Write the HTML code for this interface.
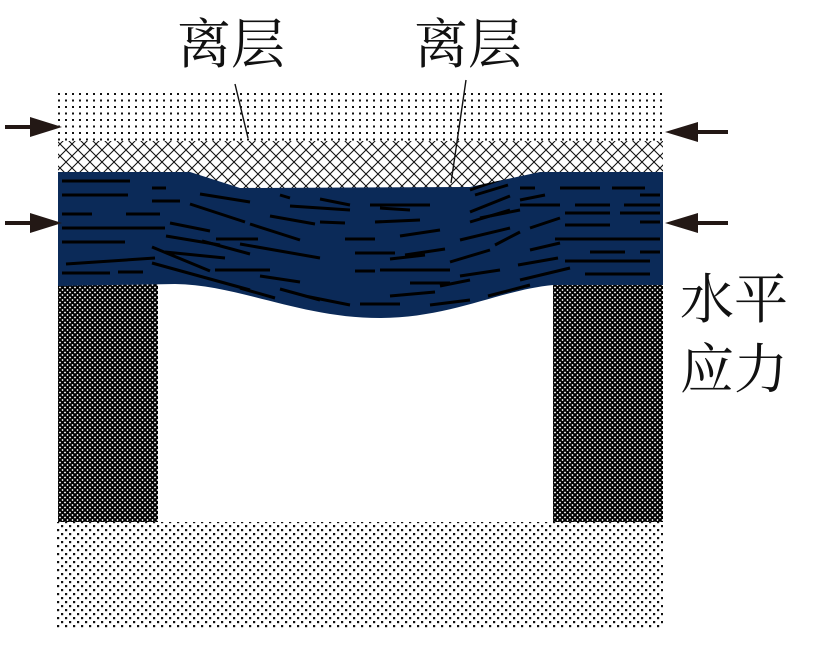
<!DOCTYPE html>
<html><head><meta charset="utf-8"><style>
html,body{margin:0;padding:0;background:#fff;width:815px;height:660px;overflow:hidden}
svg{display:block}
</style></head><body>
<svg width="815" height="660" xmlns="http://www.w3.org/2000/svg">
<defs>
<pattern id="dots" width="7" height="6.5" patternUnits="userSpaceOnUse">
<rect x="2" y="2" width="2" height="2" fill="#111"/></pattern>
<pattern id="dots2" width="8" height="8" patternUnits="userSpaceOnUse">
<rect x="1" y="1" width="2.2" height="2.2" fill="#111"/><rect x="5" y="5" width="2.2" height="2.2" fill="#111"/></pattern>
<pattern id="cross" width="12" height="12" patternUnits="userSpaceOnUse">
<path d="M0 0L12 12M12 0L0 12" stroke="#111" stroke-width="1.1"/></pattern>
<pattern id="dense" width="5" height="5" patternUnits="userSpaceOnUse">
<rect width="5" height="5" fill="#fff"/><path d="M0 0L5 5M5 0L0 5" stroke="#000" stroke-width="2"/></pattern>
<clipPath id="blue"><path d="M58 172H190L240 188L470 187L540 172H663V285H553C500 290 450 318 380 318C300 318 240 285 175 284L58 286Z"/></clipPath>
</defs>
<rect x="58" y="93" width="605" height="48" fill="url(#dots)"/>
<path d="M58 141H663V178H540L470 190H240L190 178H58Z" fill="url(#cross)"/>
<rect x="58" y="283" width="100" height="239" fill="url(#dense)"/>
<rect x="553" y="283" width="110" height="239" fill="url(#dense)"/>
<rect x="56" y="522" width="607" height="106" fill="url(#dots2)"/>
<path d="M58 172H190L240 188L470 187L540 172H663V285H553C500 290 450 318 380 318C300 318 240 285 175 284L58 286Z" fill="#0b2a58"/>
<g stroke="#000" stroke-width="3" stroke-linecap="butt" clip-path="url(#blue)">
<path d="M62 181H130M62 195H128M62 214H92M126 214H160M62 228H165M62 242H125M66 264L155 258M62 273H110M118 272H143"/>
<path d="M152 188H166M152 201H180M200 194L250 202M190 204L245 222M170 223L210 231M166 236L220 245M216 239H258M165 252L225 258M152 247L210 271M152 263L250 290M240 288L275 298M255 302L300 312"/>
<path d="M280 195L290 198M320 199L350 205M270 216L315 224M250 224L300 240M240 244L320 258M202 241L250 254M215 270H270M260 276L300 282M280 289L320 300M305 296L350 305M360 304H400"/>
<path d="M290 206L350 210M370 205H430M320 222L345 223M375 222L420 220M345 239H375M400 236L440 230M355 253H395M390 259L425 255M380 270H450M390 296L435 292M440 286L470 280M460 276L500 270M450 262L490 250M460 240L510 228M470 222L510 210M475 195L508 185"/>
<path d="M380 208L410 210M405 255L445 249M355 271H375M410 283H450"/>
<path d="M470 190L510 176M470 212L510 196M480 218L520 210M495 245L520 232M530 250L560 243M518 265L558 258M520 280L570 268M488 296L530 285M430 305L470 300"/>
<path d="M520 188H535M560 188H600M612 188H645M640 195H660M520 205H560M575 205H610M624 205H660M565 213H610M620 213H660M565 225H610M640 222H660M555 239H660M590 252H625M640 252H660M565 261H650M585 274H650M530 228L560 218M520 200L545 195"/>
</g>
<path d="M235 84L248 138M466 80L451 183" stroke="#111" stroke-width="1.4" fill="none"/>
<g fill="#231815">
<rect x="5" y="125" width="30" height="4"/><path d="M30 117L62 127L30 137Z"/>
<rect x="5" y="221" width="30" height="4"/><path d="M30 213L62 223L30 233Z"/>
<rect x="693" y="130" width="35" height="4"/><path d="M698 122L665 132L698 142Z"/>
<rect x="693" y="221" width="35" height="4"/><path d="M698 213L665 223L698 233Z"/>
</g>
<g font-family="'Liberation Serif','Noto Serif CJK SC',serif" font-size="54" fill="#111">
<text x="177" y="63">离层</text>
<text x="414" y="63">离层</text>
<text x="680" y="318">水平</text>
<text x="680" y="388">应力</text>
</g>
</svg>
</body></html>
